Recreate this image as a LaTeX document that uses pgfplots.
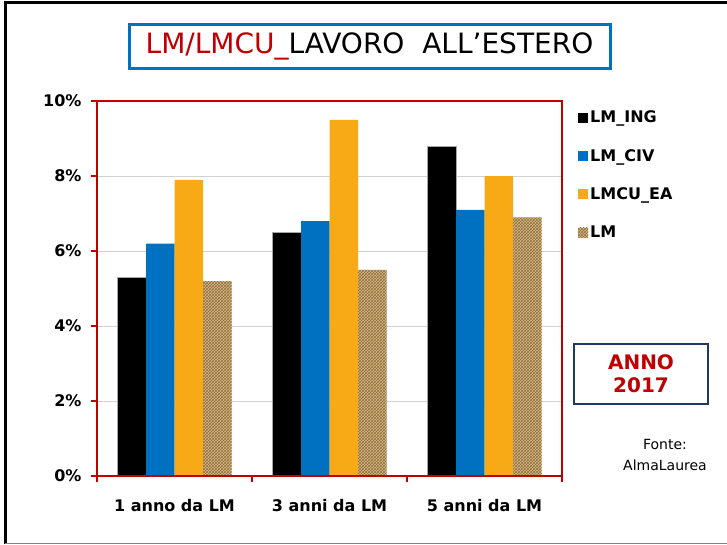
\documentclass[border=0pt]{standalone}
\usepackage{pgfplots}
\pgfplotsset{compat=1.18}
\usetikzlibrary{patterns}
\usepackage{fontspec}
\setmainfont{DejaVu Sans}
\definecolor{framered}{RGB}{192,0,0}
\definecolor{titleblue}{RGB}{0,112,192}
\definecolor{annoblue}{RGB}{31,56,100}
\definecolor{cING}{RGB}{0,0,0}
\definecolor{cCIV}{RGB}{0,112,192}
\definecolor{cEA}{RGB}{248,169,22}
\definecolor{burlap}{RGB}{214,190,140}
\definecolor{burlapdark}{RGB}{145,110,60}
\begin{document}
\begin{tikzpicture}[x=1pt,y=1pt]
\useasboundingbox (0,0) rectangle (727,-544);
\draw[black, line width=3pt] (5,-544) -- (5,-2.5) -- (727,-2.5);
\draw[gray, line width=1pt] (5,-543.5) -- (727,-543.5);
\begin{axis}[
  name=ax,
  at={(97pt,-476pt)}, anchor=south west,
  width=465pt, height=375pt, scale only axis,
  ybar=0pt, bar width=28.5pt,
  xmin=-0.5, xmax=2.5, ymin=0, ymax=10,
  xtick={0,1,2}, xticklabels={1 anno da LM,3 anni da LM,5 anni da LM},
  minor xtick={-0.5,0.5,1.5,2.5},
  ytick={0,2,4,6,8,10},
  yticklabels={0\%,2\%,4\%,6\%,8\%,10\%},
  tick label style={font=\bfseries\fontsize{16}{19}\selectfont},
  xticklabel style={yshift=-14pt},
  yticklabel style={xshift=-6pt},
  tick align=outside,
  major tick length=6pt, minor tick length=6pt,
  major x tick style={draw=none},
  minor x tick style={draw=framered, line width=2pt},
  major y tick style={draw=framered, line width=2pt},
  ytick pos=left, xtick pos=bottom,
  axis line style={draw=none},
  ymajorgrids, grid style={gray!35, line width=0.8pt},
  legend style={at={(1.028,0.985)}, anchor=north west, draw=none, fill=none,
    font=\bfseries\fontsize{16}{19}\selectfont, row sep=21pt},
  legend cell align=left,
  legend image code/.code={\fill[#1,draw=none] (0pt,-5pt) rectangle (10pt,5pt);},
]
\addplot[fill=cING, draw=gray!70, line width=0.6pt] coordinates {(0,5.3) (1,6.5) (2,8.8)};
\addplot[fill=cCIV, draw=none] coordinates {(0,6.2) (1,6.8) (2,7.1)};
\addplot[fill=cEA, draw=none] coordinates {(0,7.9) (1,9.5) (2,8.0)};
\addplot[fill=burlap, draw=none, postaction={pattern=crosshatch, pattern color=burlapdark}] coordinates {(0,5.2) (1,5.5) (2,6.9)};
\legend{LM\_ING,LM\_CIV,LMCU\_EA,LM}
\end{axis}
\draw[framered, line width=2.8pt] (ax.south west) rectangle (ax.north east);
\node[draw=titleblue, line width=3pt, minimum width=481pt, minimum height=44pt, font=\fontsize{28}{32}\selectfont, inner sep=0pt] at (369.5,-46) {\textcolor{framered}{LM/LMCU\_}LAVORO\ \ ALL’ESTERO};
\node[draw=annoblue, line width=1.8pt, minimum width=134pt, minimum height=60pt, font=\bfseries\fontsize{20}{23}\selectfont, text=framered, align=center, inner sep=0pt] at (641,-374) {ANNO\\2017};
\node[font=\fontsize{14}{21}\selectfont, align=center] at (665,-455) {Fonte:\\AlmaLaurea};
\end{tikzpicture}
\end{document}
